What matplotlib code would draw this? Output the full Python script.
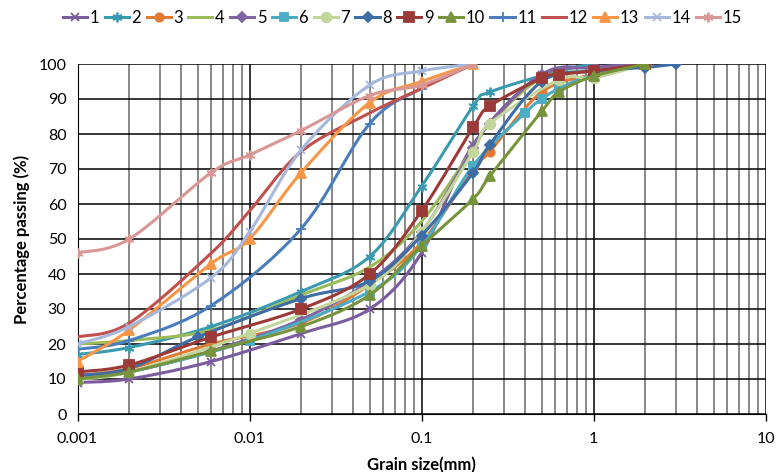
import numpy as np
import matplotlib
matplotlib.use("Agg")
import matplotlib.pyplot as plt
from matplotlib.lines import Line2D
from matplotlib.ticker import FixedLocator, FixedFormatter, NullFormatter

plt.rcParams['font.family'] = ['Lato', 'DejaVu Sans']

# ---- data ----
labels = [str(i) for i in range(1, 16)]

x1 = [0.001, 0.002, 0.006, 0.02, 0.05, 0.1, 0.2, 0.5, 1, 2]
y1 = [9, 10, 15, 23, 30, 46, 77, 97, 99, 100]
x2 = [0.001, 0.002, 0.006, 0.02, 0.05, 0.1, 0.2, 0.25, 0.63, 1]
y2 = [17, 19, 25, 35, 45, 65, 88, 92, 98, 100]
x3 = [0.001, 0.002, 0.006, 0.02, 0.05, 0.1, 0.2, 0.25, 0.5, 1, 2]
y3 = [11, 13, 20, 26, 37, 49, 70, 75, 92, 97, 100]
x4 = [0.001, 0.002, 0.006, 0.02, 0.05, 0.1, 0.2, 0.25, 0.5, 1, 2]
y4 = [20, 21, 24, 34, 42, 55, 76, 83, 96, 98, 100]
x5 = [0.001, 0.002, 0.006, 0.02, 0.05, 0.1, 0.2, 0.25, 0.5, 1, 2]
y5 = [10, 12, 18, 27, 38, 52, 76, 83, 97, 99, 100]
x6 = [0.001, 0.002, 0.01, 0.05, 0.1, 0.2, 0.4, 0.5, 0.63, 1, 2]
y6 = [10, 12, 21, 35, 48, 71, 86, 90, 93, 97, 100]
x7 = [0.001, 0.002, 0.01, 0.05, 0.1, 0.2, 0.25, 0.63, 1, 2]
y7 = [10, 12, 23, 37, 52, 75, 83, 95.5, 96, 100]
x8 = [0.001, 0.002, 0.005, 0.02, 0.05, 0.1, 0.2, 0.25, 0.5, 1, 2, 3]
y8 = [11, 13, 22, 33, 38, 51, 69, 77, 95, 98, 99, 100]
x9 = [0.001, 0.002, 0.006, 0.02, 0.05, 0.1, 0.2, 0.25, 0.5, 0.63, 1, 2]
y9 = [12, 14, 22, 30, 40, 58, 82, 88, 96, 97, 98, 100]
x10 = [0.001, 0.002, 0.006, 0.02, 0.05, 0.1, 0.2, 0.25, 0.5, 0.63, 1, 2]
y10 = [10, 12, 18, 25, 34, 48, 61.5, 68, 86.5, 92, 96.5, 100]
x11 = [0.001, 0.002, 0.006, 0.02, 0.05, 0.1, 0.2]
y11 = [18.5, 21, 31, 53, 83, 93, 100]
x12 = [0.001, 0.002, 0.006, 0.01, 0.02, 0.05, 0.1, 0.2]
y12 = [22, 26, 46, 58, 75, 86, 93, 100]
x13 = [0.001, 0.002, 0.006, 0.01, 0.02, 0.05, 0.1, 0.2]
y13 = [15, 24, 43, 50, 69, 89, 95, 100]
x14 = [0.001, 0.002, 0.006, 0.01, 0.02, 0.05, 0.1, 0.2]
y14 = [20, 25, 39, 52, 75.5, 94, 98, 100]
x15 = [0.001, 0.002, 0.006, 0.01, 0.02, 0.05, 0.1, 0.2]
y15 = [46, 50, 69, 74, 81, 91, 94, 100]

xs = [x1, x2, x3, x4, x5, x6, x7, x8, x9, x10, x11, x12, x13, x14, x15]
ys = [y1, y2, y3, y4, y5, y6, y7, y8, y9, y10, y11, y12, y13, y14, y15]

xtick_vals = [0.001, 0.01, 0.1, 1, 10]
xtick_labels = ['0.001', '0.01', '0.1', '1', '10']
ytick_vals = list(range(0, 101, 10))

# ---- styles ----
colors = ['#7B5C9E', '#3A9AB0', '#E07A34', '#9BBB59', '#8064A2',
          '#4BACC6', '#C3D69B', '#3E6DA6', '#9B3A37', '#77933C',
          '#4A7EBB', '#C0504D', '#F79646', '#A6B9DC', '#D99795']
markers = ['x', (6, 2, 0), 'o', None, 'D', 's', 'o', 'D', 's', '^',
           '+', None, '^', 'x', (6, 2, 0)]
msizes = [6, 7, 6, 0, 5, 6, 7, 5, 7, 7, 7, 0, 7, 6, 7]


def smooth(xv, yv, n=30):
    # Excel-like smoothed line (Catmull-Rom Bezier) in display-like units
    u = np.log10(np.asarray(xv, float)) * 172.0
    v = np.asarray(yv, float) * 3.5
    P = np.column_stack([u, v])
    m = len(P)
    out = [P[0]]
    t = np.linspace(0, 1, n)[1:]
    for i in range(m - 1):
        p0 = P[i - 1] if i > 0 else P[i]
        p1 = P[i]
        p2 = P[i + 1]
        p3 = P[i + 2] if i + 2 < m else P[i + 1]
        c1 = p1 + (p2 - p0) / 6.0
        c2 = p2 - (p3 - p1) / 6.0
        b = ((1 - t) ** 3)[:, None] * p1 + (3 * (1 - t) ** 2 * t)[:, None] * c1 \
            + (3 * (1 - t) * t ** 2)[:, None] * c2 + (t ** 3)[:, None] * p2
        out.extend(b)
    out = np.array(out)
    return 10 ** (out[:, 0] / 172.0), out[:, 1] / 3.5


fig = plt.figure(figsize=(7.77, 4.72), dpi=100)
ax = fig.add_axes([77.5 / 777, 58 / 472, 688 / 777, 350 / 472])
ax.set_xscale('log')
ax.set_xlim(0.001, 10)
ax.set_ylim(0, 100)

handles = []
for i in range(15):
    sx, sy = smooth(xs[i], ys[i])
    ax.plot(sx, sy, color=colors[i], lw=2.2, zorder=3 + i * 0.1,
            solid_capstyle='round')
    if markers[i] is not None:
        ax.plot(xs[i], ys[i], ls='none', marker=markers[i], ms=msizes[i],
                color=colors[i], mec=colors[i], mew=1.3, zorder=3 + i * 0.1 + 0.05)
    handles.append(Line2D([], [], color=colors[i], lw=2.2,
                          marker=markers[i] if markers[i] is not None else None,
                          ms=msizes[i], mec=colors[i], mew=1.3))

# grid
ax.xaxis.set_major_locator(FixedLocator(xtick_vals))
ax.xaxis.set_major_formatter(FixedFormatter(xtick_labels))
minor = [k * 10.0 ** e for e in range(-3, 1) for k in range(2, 10)]
ax.xaxis.set_minor_locator(FixedLocator(minor))
ax.xaxis.set_minor_formatter(NullFormatter())
ax.set_yticks(ytick_vals)
ax.grid(True, which='major', axis='both', color='black', lw=1.1, zorder=1)
ax.grid(True, which='minor', axis='x', color='#7F7F7F', lw=1.3, zorder=1)
ax.set_axisbelow(True)
ax.tick_params(axis='x', which='major', length=5, width=1, direction='out',
               labelsize=11.5, pad=8, color='black')
ax.tick_params(axis='x', which='minor', length=0)
ax.tick_params(axis='y', length=0, labelsize=11.5, pad=8)
for sp in ['top', 'right']:
    ax.spines[sp].set_visible(False)
ax.spines['left'].set_color('black')
ax.spines['bottom'].set_color('black')

ax.set_xlabel('Grain size(mm)', fontsize=12, fontweight='bold', labelpad=8)
ax.set_ylabel('Percentage passing (%)', fontsize=12, fontweight='bold', labelpad=6)

fig.legend(handles, labels, loc='center', bbox_to_anchor=(0.518, 0.962),
           ncol=15, frameon=False, fontsize=12, handlelength=1.45,
           handletextpad=0.15, columnspacing=0.33, borderaxespad=0,
           borderpad=0.1)

fig.savefig('out.png', dpi=100)
